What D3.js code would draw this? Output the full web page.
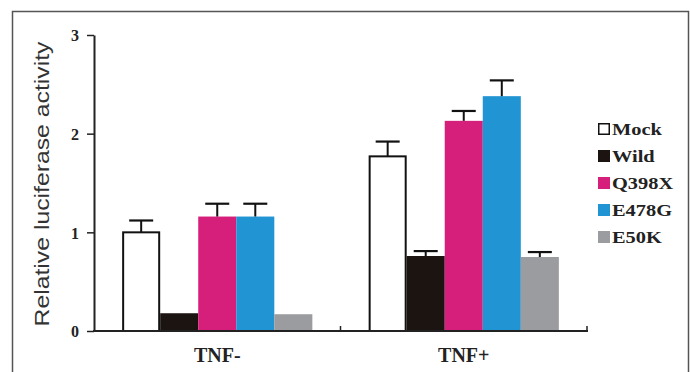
<!DOCTYPE html>
<html>
<head>
<meta charset="utf-8">
<script src="https://cdn.jsdelivr.net/npm/d3@7/dist/d3.min.js"></script>
<style>
  html, body { margin: 0; padding: 0; background: #fff; }
  svg { display: block; }
</style>
</head>
<body>
<svg id="chart" width="690" height="372"></svg>
<script>
const groups = ["TNF-", "TNF+"];
const series = ["Mock", "Wild", "Q398X", "E478G", "E50K"];
const colors = ["#ffffff", "#1c1411", "#d61f7a", "#2194d3", "#9b9c9f"];
const valuesTNFminus = [1.00, 0.18, 1.16, 1.16, 0.17];
const errorsTNFminus = [0.12, 0, 0.13, 0.13, 0];
const valuesTNFplus = [1.77, 0.76, 2.13, 2.38, 0.75];
const errorsTNFplus = [0.15, 0.05, 0.10, 0.16, 0.05];
const yTicks = [0, 1, 2, 3];
const yTitle = "Relative  luciferase activity";

const values = [valuesTNFminus, valuesTNFplus];
const errors = [errorsTNFminus, errorsTNFplus];

const svg = d3.select("#chart");

// frame
svg.append("rect")
  .attr("x", 12.5).attr("y", 11.5)
  .attr("width", 676).attr("height", 380)
  .attr("fill", "none").attr("stroke", "#555").attr("stroke-width", 1.5);

const x0 = d3.scaleBand().domain(groups).range([94, 587]).padding(0);
const x1 = d3.scaleBand().domain(series).range([0, x0.bandwidth()]).paddingInner(0).paddingOuter(0.74);
const y = d3.scaleLinear().domain([0, 3]).range([331, 35]);

// bars
groups.forEach((g, gi) => {
  const gg = svg.append("g").attr("transform", `translate(${x0(g)},0)`);
  series.forEach((s, si) => {
    const v = values[gi][si];
    const isMock = si === 0;
    gg.append("rect")
      .attr("x", x1(s) + (isMock ? 1 : 0))
      .attr("y", y(v))
      .attr("width", x1.bandwidth() - (isMock ? 2 : 0))
      .attr("height", y(0) - y(v))
      .attr("fill", colors[si])
      .attr("stroke", isMock ? "#111" : "none")
      .attr("stroke-width", isMock ? 2 : 0);
    const e = errors[gi][si];
    if (e > 0) {
      const cx = x1(s) + x1.bandwidth() / 2;
      gg.append("line")
        .attr("x1", cx).attr("x2", cx)
        .attr("y1", y(v)).attr("y2", y(v + e))
        .attr("stroke", "#111").attr("stroke-width", 2);
      gg.append("line")
        .attr("x1", cx - 12).attr("x2", cx + 12)
        .attr("y1", y(v + e)).attr("y2", y(v + e))
        .attr("stroke", "#111").attr("stroke-width", 2.2);
    }
  });
});

// y axis
const yAxis = svg.append("g").attr("transform", "translate(94,0)")
  .call(d3.axisLeft(y).tickValues(yTicks).tickFormat(d3.format("d")).tickSize(7).tickSizeOuter(0));
yAxis.select(".domain").attr("stroke", "#222").attr("stroke-width", 2);
yAxis.selectAll(".tick line").attr("stroke", "#222").attr("stroke-width", 1.5);
yAxis.selectAll(".tick text")
  .attr("x", -15)
  .attr("dy", "0.36em")
  .attr("fill", "#222")
  .style("font-family", "'Liberation Serif', 'Times New Roman', serif")
  .style("font-weight", "bold")
  .style("font-size", "16px");

// x axis
const xAxis = svg.append("g").attr("transform", "translate(0,331)");
xAxis.append("line")
  .attr("x1", 93).attr("x2", 588).attr("y1", 0).attr("y2", 0)
  .attr("stroke", "#222").attr("stroke-width", 2);
const boundaries = [x0("TNF+"), x0.range()[1]];
boundaries.forEach(b => {
  xAxis.append("line").attr("x1", b).attr("x2", b).attr("y1", 0).attr("y2", -5)
    .attr("stroke", "#222").attr("stroke-width", 1.5);
});
groups.forEach(g => {
  xAxis.append("text")
    .attr("x", x0(g) + x0.bandwidth() / 2)
    .attr("y", 31)
    .attr("text-anchor", "middle")
    .attr("fill", "#222")
    .style("font-family", "'Liberation Serif', 'Times New Roman', serif")
    .style("font-weight", "bold")
    .style("font-size", "20px")
    .text(g);
});

// y title
svg.append("text")
  .attr("transform", "translate(49,184) rotate(-90)")
  .attr("text-anchor", "middle")
  .attr("fill", "#333")
  .attr("textLength", 285)
  .attr("lengthAdjust", "spacingAndGlyphs")
  .style("font-family", "'Liberation Sans', Arial, sans-serif")
  .style("font-size", "20px")
  .text(yTitle);

// legend
const legend = svg.append("g").attr("transform", "translate(598,129)");
series.forEach((s, i) => {
  const row = legend.append("g").attr("transform", `translate(0,${i * 27})`);
  row.append("rect")
    .attr("x", i === 0 ? 0.75 : 0).attr("y", i === 0 ? -5.25 : -6)
    .attr("width", i === 0 ? 10.5 : 12).attr("height", i === 0 ? 10.5 : 12)
    .attr("fill", colors[i])
    .attr("stroke", i === 0 ? "#111" : "none")
    .attr("stroke-width", 1.5);
  row.append("text")
    .attr("transform", "translate(14,6) scale(1.2,1)")
    .attr("fill", "#222")
    .style("font-family", "'Liberation Serif', 'Times New Roman', serif")
    .style("font-weight", "bold")
    .style("font-size", "17px")
    .text(s);
});
</script>
</body>
</html>
